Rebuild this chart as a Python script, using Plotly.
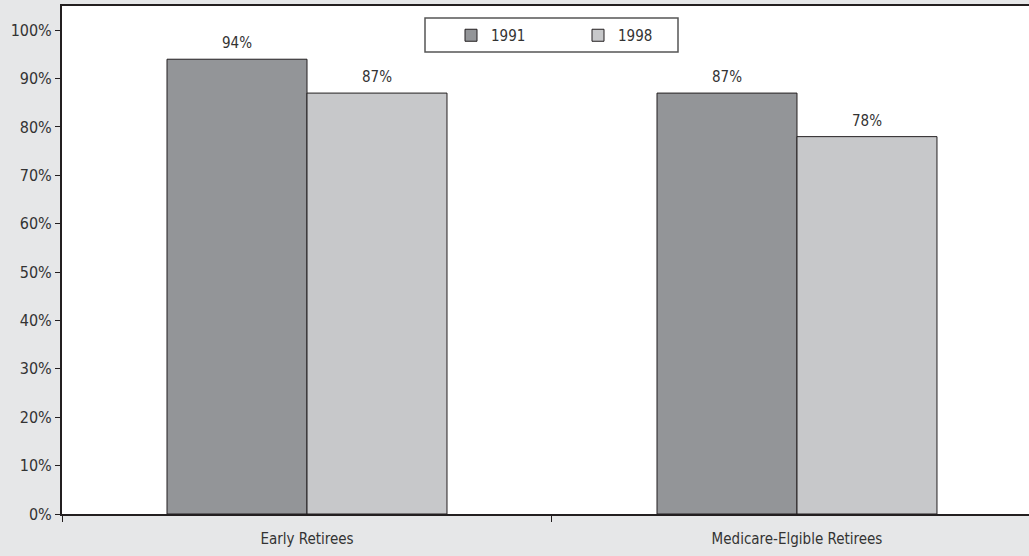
import plotly.graph_objects as go

categories = ["Early Retirees", "Medicare-Elgible Retirees"]
years = ["1991", "1998"]
values_1991 = [94, 87]
values_1998 = [87, 78]
y_ticks = [0, 10, 20, 30, 40, 50, 60, 70, 80, 90, 100]
y_tick_labels = [f"{v}%" for v in y_ticks]

FONT = "Liberation Sans Narrow, DejaVu Sans Condensed, Roboto Condensed, Arial Narrow, sans-serif"
TEXT = "#333333"
DARK = "#939598"
LIGHT = "#c7c8ca"
LINE = "#231f20"

fig = go.Figure()
series = [(years[0], values_1991, DARK, -70), (years[1], values_1998, LIGHT, 70)]
for name, vals, col, shift in series:
    fig.add_trace(go.Bar(
        name=name, x=categories, y=vals,
        marker=dict(color=col, line=dict(color=LINE, width=1)),
    ))
    # value labels above each bar
    for cat, v in zip(categories, vals):
        fig.add_annotation(
            x=cat, y=v, text=f"{v}%", showarrow=False, xshift=shift,
            yanchor="bottom", yshift=5,
            font=dict(family=FONT, size=15, color=TEXT),
        )

fig.update_layout(
    width=1029, height=556,
    margin=dict(l=62, r=0, t=6, b=42),
    paper_bgcolor="#e6e7e8", plot_bgcolor="#ffffff",
    barmode="group", bargap=0.4286, bargroupgap=0,
    font=dict(family=FONT, size=15, color=TEXT),
    showlegend=True,
    legend=dict(
        orientation="h", x=(451 - 62) / 967, xanchor="left", y=(514 - 19) / 508, yanchor="top",
        bgcolor="rgba(0,0,0,0)", borderwidth=0, itemwidth=30,
        entrywidth=82, font=dict(family=FONT, size=15, color=TEXT),
        itemclick=False,
    ),
    shapes=[dict(
        type="rect", xref="paper", yref="paper",
        x0=(425 - 62) / 967, x1=(678 - 62) / 967,
        y0=(514 - 52) / 508, y1=(514 - 18) / 508,
        line=dict(color="#555555", width=1.5), fillcolor="#ffffff", layer="below",
    )],
    xaxis=dict(
        range=[-0.5, 1.4735], tickson="boundaries", ticks="outside", ticklen=6,
        tickcolor=LINE, showline=True, linecolor=LINE, linewidth=2, mirror=True,
        showgrid=False, ticklabelstandoff=10,
        tickfont=dict(family=FONT, size=15, color=TEXT),
    ),
    yaxis=dict(
        range=[0, 105], tickvals=y_ticks, ticktext=y_tick_labels, ticks="outside", ticklen=5,
        tickcolor=LINE, showline=True, linecolor=LINE, linewidth=2,
        showgrid=False, zeroline=False, tickfont=dict(family=FONT, size=16, color=TEXT),
    ),
)

fig.write_html("out.html")
